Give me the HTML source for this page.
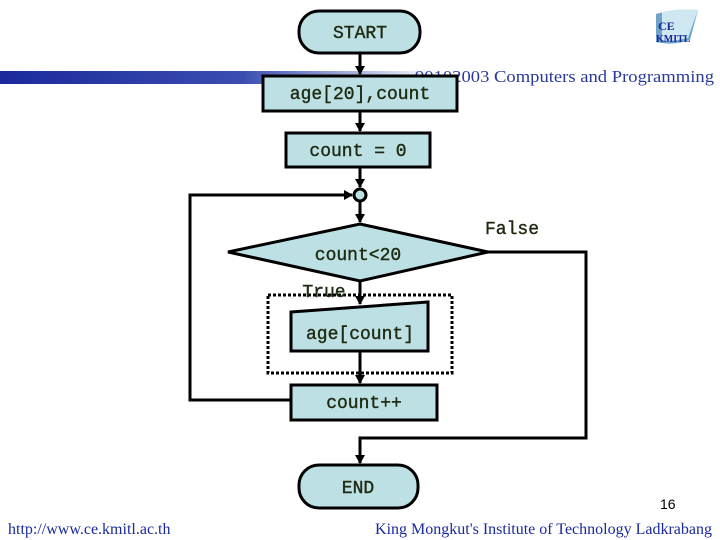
<!DOCTYPE html>
<html><head><meta charset="utf-8"><style>
html,body{margin:0;padding:0;background:#fff;}
svg{display:block;}
</style></head><body>
<svg width="720" height="540" viewBox="0 0 720 540" xmlns="http://www.w3.org/2000/svg">
<defs>
<linearGradient id="bar" x1="0" x2="1" y1="0" y2="0">
<stop offset="0" stop-color="#1a2a9c"/>
<stop offset="0.55" stop-color="#3a4db0"/>
<stop offset="1" stop-color="#ffffff"/>
</linearGradient>
<marker id="ar" markerWidth="10" markerHeight="10" refX="8" refY="5" orient="auto" markerUnits="userSpaceOnUse">
<path d="M0,0 L9,5 L0,10 z" fill="#000"/>
</marker>
</defs>
<rect x="0" y="71" width="440" height="13" fill="url(#bar)"/>
<text x="415" y="82" font-family="Liberation Serif, serif" font-size="17" fill="#2a3a9c" textLength="299" lengthAdjust="spacingAndGlyphs">90102003 Computers and Programming</text>
<path d="M656,14 Q676,8 698,10 L690,40 Q672,46 656,42 z" fill="#6fa3c8"/>
<path d="M662,12 Q680,8 698,10 L688,38 Q672,42 662,40 z" fill="#cfe7f0"/>
<text x="658" y="30" font-family="Liberation Serif, serif" font-weight="bold" font-size="12" fill="#1a2a9c">CE</text>
<text x="656" y="42" font-family="Liberation Serif, serif" font-weight="bold" font-size="10" fill="#1a2a9c">KMITL</text>

<g stroke="#000" stroke-width="3" fill="none">
<line x1="360" y1="53" x2="360" y2="74" marker-end="url(#ar)"/>
<line x1="360" y1="111" x2="360" y2="131" marker-end="url(#ar)"/>
<line x1="360" y1="167" x2="360" y2="187" marker-end="url(#ar)"/>
<line x1="360" y1="201" x2="360" y2="222" marker-end="url(#ar)"/>
<line x1="360" y1="281" x2="360" y2="304" marker-end="url(#ar)"/>
<line x1="360" y1="351" x2="360" y2="383" marker-end="url(#ar)"/>
<polyline points="291,400 190,400 190,195 352,195" marker-end="url(#ar)"/>
<polyline points="488,252 586,252 586,438 360,438 360,463" marker-end="url(#ar)"/>
</g>
<circle cx="360" cy="195" r="6" fill="#bde0e4" stroke="#000" stroke-width="3"/>

<rect x="299" y="11" width="121" height="42" rx="20" fill="#bde0e4" stroke="#000" stroke-width="3"/>
<rect x="263" y="76" width="194" height="35" fill="#bde0e4" stroke="#000" stroke-width="3"/>
<rect x="286" y="133" width="144" height="34" fill="#bde0e4" stroke="#000" stroke-width="3"/>
<polygon points="360,224 488,252 360,281 228,252" fill="#bde0e4" stroke="#000" stroke-width="3"/>
<rect x="268" y="295" width="184" height="78" fill="none" stroke="#000" stroke-width="3" stroke-dasharray="3,2"/>
<polygon points="291,312 428,302 428,351 291,351" fill="#bde0e4" stroke="#000" stroke-width="3"/>
<rect x="291" y="385" width="146" height="35" fill="#bde0e4" stroke="#000" stroke-width="3"/>
<rect x="299" y="465" width="119" height="43" rx="20" fill="#bde0e4" stroke="#000" stroke-width="3"/>

<g font-family="Liberation Mono, monospace" font-size="18" fill="#1f2a10" text-anchor="middle" stroke="#1f2a10" stroke-width="0.4">
<text x="360" y="38">START</text>
<text x="360" y="99">age[20],count</text>
<text x="358" y="156">count = 0</text>
<text x="358" y="260">count&lt;20</text>
<text x="360" y="339">age[count]</text>
<text x="364" y="408">count++</text>
<text x="358" y="493">END</text>
<text x="512" y="234">False</text>
<text x="324" y="297">True</text>
</g>
<text x="660" y="509" font-family="Liberation Sans, sans-serif" font-size="14" fill="#000">16</text>
<text x="8" y="534" font-family="Liberation Serif, serif" font-size="16" fill="#1a2a9c">http://www.ce.kmitl.ac.th</text>
<text x="712" y="534" text-anchor="end" font-family="Liberation Serif, serif" font-size="16" fill="#1a2a9c">King Mongkut's Institute of Technology Ladkrabang</text>
</svg>
</body></html>
